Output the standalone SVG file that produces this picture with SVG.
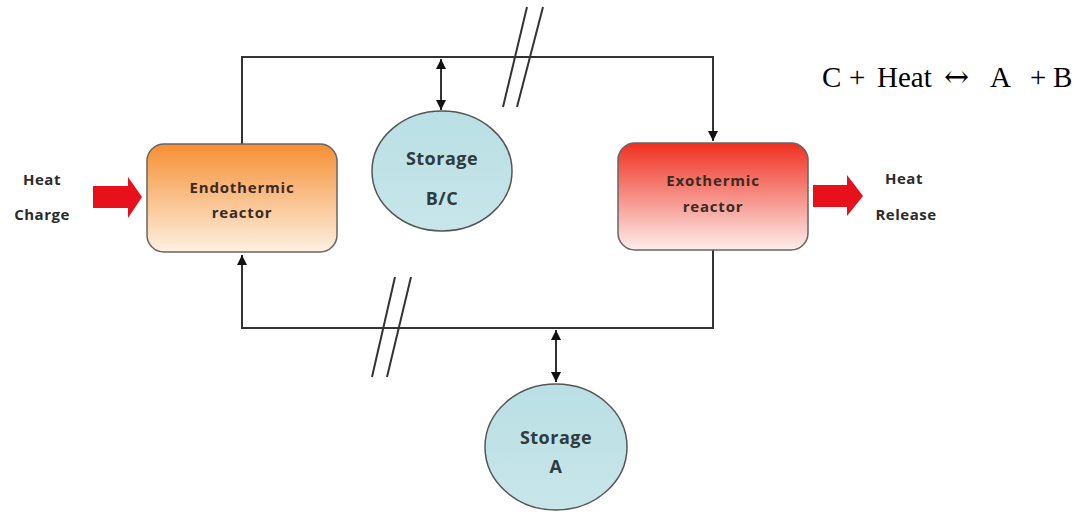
<svg xmlns="http://www.w3.org/2000/svg" width="1085" height="512" viewBox="0 0 1085 512">
<style>
.line{fill:none;stroke:#333;stroke-width:2}
.lbl{font-family:"Open Sans","Liberation Sans",sans-serif;font-weight:bold;font-size:15px;letter-spacing:0.5px;fill:#2b2b2b;text-anchor:middle}
.nt{font-family:"Open Sans","Liberation Sans",sans-serif;font-weight:bold;font-size:15px;letter-spacing:0.8px;fill:#3a2a22;text-anchor:middle}
.st{font-family:"Open Sans","Liberation Sans",sans-serif;font-weight:bold;font-size:18px;letter-spacing:0.5px;fill:#2f3b3d;text-anchor:middle}
.eq{font-family:"Liberation Serif",serif;font-size:29px;fill:#000}
.arr{font-family:"DejaVu Serif","Liberation Serif",serif;font-size:30px}
.box{stroke:#666;stroke-width:1.5}
.circ{fill:url(#gc);stroke:#555;stroke-width:1.5}
.red{fill:#e8101a}
</style>
<defs>
<linearGradient id="ge" x1="0" y1="0" x2="0" y2="1">
<stop offset="0" stop-color="#f68f33"/><stop offset="1" stop-color="#fdf1e2"/>
</linearGradient>
<linearGradient id="gx" x1="0" y1="0" x2="0" y2="1">
<stop offset="0" stop-color="#ef3020"/><stop offset="1" stop-color="#fdeeec"/>
</linearGradient>
<linearGradient id="gc" x1="0" y1="0" x2="0" y2="1">
<stop offset="0" stop-color="#b9dfe4"/><stop offset="1" stop-color="#c8e6ea"/>
</linearGradient>
<marker id="ah" viewBox="0 0 10 10" refX="10" refY="5" markerWidth="5" markerHeight="5" orient="auto-start-reverse">
<path d="M0,0 L10,5 L0,10 z" fill="#111"/>
</marker>
</defs>
<g id="connectors">
<polyline class="line" points="242,144 242,57 713,57 713,141" marker-end="url(#ah)"/>
<polyline class="line" points="713,250 713,328 242,328 242,255" marker-end="url(#ah)"/>
<line class="line" x1="441" y1="59" x2="441" y2="110" marker-start="url(#ah)" marker-end="url(#ah)"/>
<line class="line" x1="556" y1="330" x2="556" y2="382" marker-start="url(#ah)" marker-end="url(#ah)"/>
<line class="line" x1="503" y1="107" x2="527" y2="7"/>
<line class="line" x1="517" y1="107" x2="543" y2="7"/>
<line class="line" x1="372" y1="377" x2="395" y2="277"/>
<line class="line" x1="387" y1="377" x2="411" y2="277"/>
</g>
<g id="heat-charge">
<text class="lbl" x="42" y="185">Heat</text>
<text class="lbl" x="42" y="220">Charge</text>
<polygon class="red" points="93,186 128,186 128,177 142,197 128,218 128,208 93,208"/>
</g>
<g id="endothermic">
<rect class="box" x="147" y="144" width="190" height="108" rx="17" fill="url(#ge)"/>
<text class="nt" x="242" y="193">Endothermic</text>
<text class="nt" x="242" y="218">reactor</text>
</g>
<g id="storage-bc">
<ellipse class="circ" cx="442" cy="171" rx="70" ry="60"/>
<text class="st" x="442" y="165">Storage</text>
<text class="st" x="442" y="205">B/C</text>
</g>
<g id="exothermic">
<rect class="box" x="618" y="143" width="190" height="107" rx="17" fill="url(#gx)"/>
<text class="nt" x="713" y="186">Exothermic</text>
<text class="nt" x="713" y="212">reactor</text>
</g>
<g id="heat-release">
<polygon class="red" points="813,185 847,185 847,175 863,196 847,216 847,207 813,207"/>
<text class="lbl" x="904" y="184">Heat</text>
<text class="lbl" x="906" y="220">Release</text>
</g>
<g id="storage-a">
<ellipse class="circ" cx="556" cy="447" rx="71" ry="63"/>
<text class="st" x="556" y="444">Storage</text>
<text class="st" x="556" y="473">A</text>
</g>
<g id="equation">
<text class="eq" y="87"><tspan x="822">C</tspan><tspan x="849">+</tspan><tspan x="877">Heat</tspan><tspan class="arr" x="944">↔</tspan><tspan x="990">A</tspan><tspan x="1030">+</tspan><tspan x="1053">B</tspan></text>
</g>
</svg>
